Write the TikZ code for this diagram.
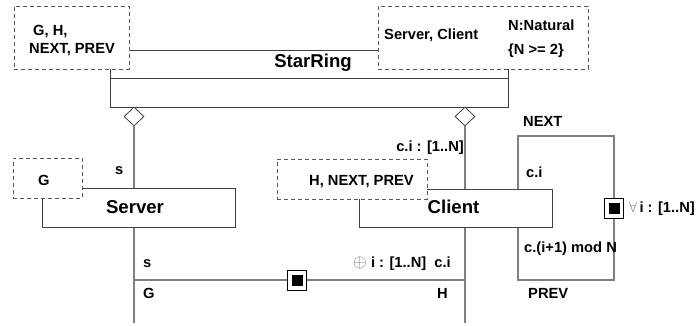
\documentclass[tikz,border=0pt]{standalone}
\usepackage{fontspec}
\setmainfont{Liberation Sans}
\usetikzlibrary{shapes.geometric}
\begin{document}
\begin{tikzpicture}[x=1pt,y=-1pt,
  lbl/.style={font=\fontsize{14.7}{17}\selectfont\bfseries, inner sep=0pt, text=black},
  big/.style={font=\fontsize{18.6}{22}\selectfont\bfseries, inner sep=0pt, text=black},
  cls/.style={draw=black!75, line width=0.9pt, fill=white, rectangle, inner sep=0pt},
  dbox/.style={draw=black!65, line width=0.9pt, dash pattern=on 4pt off 3pt, fill=white, rectangle, inner sep=0pt},
  conn/.style={draw=black!50, line width=1.3pt},
  agg/.style={diamond, draw=black!75, fill=white, line width=0.8pt, minimum width=20pt, minimum height=19pt, inner sep=0pt},
  port/.style={draw=black, fill=white, line width=0.9pt, minimum width=19pt, minimum height=20pt, inner sep=0pt},
  portin/.style={fill=black, minimum size=11pt, inner sep=0pt}
]
\useasboundingbox (0,0) rectangle (696,326);

% StarRing class
\node[cls, minimum width=398pt, minimum height=57pt] (star) at (309,78.5) {};
\coordinate (divl) at (110,78);
\coordinate (divr) at (508,78);
\draw[black!75, line width=0.9pt] (divl) -- (divr);
\node[big, anchor=base] (starlbl) at (313,68) {StarRing};

% aggregation diamonds and parts connectors
\node[agg] (d1) at (134,116.5) {};
\node[agg] (d2) at (465,116.5) {};
\coordinate (l1end) at (134,323);
\coordinate (l2end) at (465,323);
\draw[conn] (d1.south) -- (l1end);
\draw[conn] (d2.south) -- (l2end);

% G--H connector
\coordinate (hl) at (134,280);
\coordinate (hr) at (465,280);
\draw[conn] (hl) -- (hr);

% NEXT--PREV ring connector
\coordinate (rtl) at (518,136);
\coordinate (rtr) at (614,136);
\coordinate (rbr) at (614,280);
\coordinate (rbl) at (518,280);
\draw[conn] (rtl) -- (rtr) -- (rbr) -- (rbl) -- cycle;

% Server and Client classes
\node[cls, minimum width=193pt, minimum height=39pt] (server) at (138.5,207.5) {};
\node[cls, minimum width=193pt, minimum height=38pt] (client) at (455.5,208) {};
\node[big, anchor=base] (serverlbl) at (135,213) {Server};
\node[big, anchor=base] (clientlbl) at (453.5,213) {Client};

% dashed parameter boxes
\node[dbox, minimum width=115pt, minimum height=63pt] (gdecl) at (71.5,37.5) {};
\node[dbox, minimum width=210pt, minimum height=63pt] (sdecl) at (483,37.5) {};
\node[dbox, minimum width=69pt, minimum height=40pt] (sgdecl) at (47.5,178) {};
\node[dbox, minimum width=150pt, minimum height=40pt] (cdecl) at (352,179) {};

% texts in dashed boxes
\node[lbl, anchor=base west] (t1) at (33,36) {G, H,};
\node[lbl, anchor=base west] (t2) at (29,54) {NEXT, PREV};
\node[lbl, anchor=base west] (t3) at (384,39.5) {Server, Client};
\node[lbl, anchor=base west] (t4) at (508,30.5) {N:Natural};
\node[lbl, anchor=base west] (t5) at (508,55) {\{N >= 2\}};
\node[lbl, anchor=base west] (t6) at (38,185) {G};
\node[lbl, anchor=base west] (t7) at (309,185) {H, NEXT, PREV};

% role labels
\node[lbl, anchor=base west] (rs1) at (115,175) {s};
\node[lbl, anchor=base east] (rc1) at (464,152) {c.i : [1..N]};
\node[lbl, anchor=base west] (rs2) at (143,267) {s};
\node[lbl, anchor=base west] (rg) at (143,298) {G};
\node[lbl, anchor=base east] (rci) at (451,267) {\textcolor{black!55}{\scalebox{1.25}{$\oplus$}} i : [1..N]\ \ c.i};
\node[lbl, anchor=base west] (rh) at (437,298) {H};
\node[lbl, anchor=base west] (rnext) at (523,127) {NEXT};
\node[lbl, anchor=base west] (rcii) at (526,178) {c.i};
\node[lbl, anchor=base west] (rcmod) at (524,252) {c.(i+1) mod N};
\node[lbl, anchor=base west] (rprev) at (528,298) {PREV};
\node[lbl, anchor=base east] (rall) at (695,212) {\textcolor{black!55}{$\forall$}\hspace{2.5pt}i : [1..N]};

% ports
\node[port] (p1) at (297,280) {};
\node[portin] (p1in) at (p1.center) {};
\node[port] (p2) at (614,208) {};
\node[portin] (p2in) at (p2.center) {};
\end{tikzpicture}
\end{document}
